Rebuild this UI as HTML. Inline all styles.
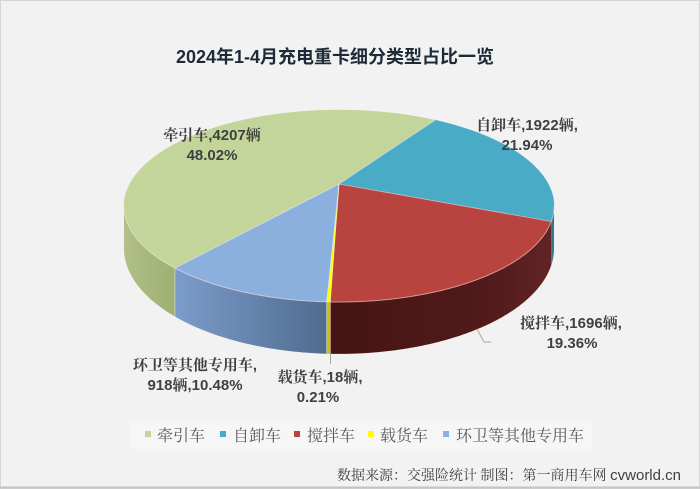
<!DOCTYPE html>
<html><head><meta charset="utf-8">
<style>
html,body{margin:0;padding:0;background:#f2f2f2;}
svg{display:block;}
.cj{font-family:"Noto Serif CJK SC","Liberation Serif",serif;font-weight:bold;}
.la{font-family:"Liberation Sans",sans-serif;font-weight:bold;}
.lbl{font-size:15px;fill:#404040;}
.leg{font-family:"Noto Serif CJK SC","Liberation Serif",serif;font-size:16px;fill:#595959;}
</style></head>
<body>
<svg id="c" width="700" height="489" viewBox="0 0 700 489" xmlns="http://www.w3.org/2000/svg">
<defs>
<linearGradient id="gG" gradientUnits="userSpaceOnUse" x1="124" y1="0" x2="182" y2="0"><stop offset="0" stop-color="#b0c086"/><stop offset="1" stop-color="#9cad70"/></linearGradient>
<linearGradient id="gB" gradientUnits="userSpaceOnUse" x1="178" y1="0" x2="332" y2="0"><stop offset="0" stop-color="#7b9bc9"/><stop offset="1" stop-color="#4e6a8d"/></linearGradient>
<linearGradient id="gR" gradientUnits="userSpaceOnUse" x1="332" y1="0" x2="554" y2="0"><stop offset="0" stop-color="#461414"/><stop offset="0.7" stop-color="#521a1a"/><stop offset="1" stop-color="#622424"/></linearGradient>
<linearGradient id="gT" gradientUnits="userSpaceOnUse" x1="540" y1="0" x2="556" y2="0"><stop offset="0" stop-color="#3d8ea6"/><stop offset="1" stop-color="#2f7388"/></linearGradient>
</defs>
<rect x="0" y="0" width="700" height="489" fill="#f2f2f2"/>
<rect x="0.5" y="0.5" width="699" height="488" fill="none" stroke="#d6d6d6" stroke-width="1"/>
<line x1="0" y1="487.5" x2="700" y2="487.5" stroke="#c4c4c4" stroke-width="2"/>

<text x="335" y="63" text-anchor="middle" style="font-family:'Liberation Sans','Noto Sans CJK SC',sans-serif;font-size:18px;font-weight:bold;fill:#1f2a38;">2024年1-4月充电重卡细分类型占比一览</text>

<g id="walls"></g>
<g id="tops"></g>
<g id="lines"></g>

<!-- leader lines -->
<polyline points="477,329 484,342 491,342" fill="none" stroke="#a6a6a6" stroke-width="1"/>
<line x1="330.5" y1="354" x2="330.5" y2="364" stroke="#a6a6a6" stroke-width="1"/>

<!-- labels -->
<g class="lbl">
<text x="212" y="140" text-anchor="middle"><tspan class="cj">牵引车</tspan><tspan class="la">,4207</tspan><tspan class="cj">辆</tspan></text>
<text x="212" y="160" text-anchor="middle" class="la">48.02%</text>

<text x="527" y="130" text-anchor="middle"><tspan class="cj">自卸车</tspan><tspan class="la">,1922</tspan><tspan class="cj">辆</tspan><tspan class="la">,</tspan></text>
<text x="527" y="150" text-anchor="middle" class="la">21.94%</text>

<text x="571" y="328" text-anchor="middle"><tspan class="cj">搅拌车</tspan><tspan class="la">,1696</tspan><tspan class="cj">辆</tspan><tspan class="la">,</tspan></text>
<text x="572" y="348" text-anchor="middle" class="la">19.36%</text>

<text x="195" y="370" text-anchor="middle"><tspan class="cj">环卫等其他专用车</tspan><tspan class="la">,</tspan></text>
<text x="195" y="390" text-anchor="middle"><tspan class="la">918</tspan><tspan class="cj">辆</tspan><tspan class="la">,10.48%</tspan></text>

<text x="320" y="382" text-anchor="middle"><tspan class="cj">载货车</tspan><tspan class="la">,18</tspan><tspan class="cj">辆</tspan><tspan class="la">,</tspan></text>
<text x="318" y="402" text-anchor="middle" class="la">0.21%</text>
</g>

<!-- legend -->
<rect x="129" y="421" width="463" height="28" fill="#f6f6f6"/>
<rect x="145" y="431" width="6" height="6" fill="#c3d59b"/>
<text x="157" y="441" class="leg">牵引车</text>
<rect x="220" y="431" width="6" height="6" fill="#4aabc6"/>
<text x="233" y="441" class="leg">自卸车</text>
<rect x="294" y="431" width="6" height="6" fill="#b9433f"/>
<text x="307" y="441" class="leg">搅拌车</text>
<rect x="368" y="431" width="6" height="6" fill="#ffff00"/>
<text x="380" y="441" class="leg">载货车</text>
<rect x="443" y="431" width="6" height="6" fill="#8cb0de"/>
<text x="456" y="441" class="leg">环卫等其他专用车</text>

<!-- source -->
<text x="681" y="480" text-anchor="end" style="font-size:14px;fill:#404040;"><tspan style="font-family:'Noto Serif CJK SC','Liberation Serif',serif;">数据来源：交强险统计 制图：第一商用车网 </tspan><tspan style="font-family:'Liberation Sans',sans-serif;font-size:15px;">cvworld.cn</tspan></text>
</svg>
<script>
(function(){
var NS="http://www.w3.org/2000/svg";
var cx=339,cy=184,A=209.3,B=90.96,k=0.2292,H=40;
function P(t,d){var r=t*Math.PI/180;var X=Math.sin(r),Y=Math.cos(r);var s=1+k*Y;return [cx+A*X/s, cy-B*Y/s+d*H/s];}
function arc(t1,t2,d){var pts=[];var n=Math.max(2,Math.ceil(Math.abs(t2-t1)/0.5));for(var i=0;i<=n;i++){pts.push(P(t1+(t2-t1)*i/n,d));}return pts;}
function f(p){return p[0].toFixed(2)+","+p[1].toFixed(2);}
function mk(parent,tag,attrs){var e=document.createElementNS(NS,tag);for(var a in attrs)e.setAttribute(a,attrs[a]);parent.appendChild(e);return e;}
var slices=[
 {t1:220.3,t2:393.17,top:"#c3d59b",wall:"url(#gG)"},
 {t1:33.17,t2:112.15,top:"#4aabc6",wall:"url(#gT)"},
 {t1:112.15,t2:181.85,top:"#b9433f",wall:"url(#gR)"},
 {t1:181.85,t2:182.6,top:"#ffff00",wall:"#c9c200"},
 {t1:182.6,t2:220.3,top:"#8cb0de",wall:"url(#gB)"}
];
var walls=document.getElementById("walls"),tops=document.getElementById("tops"),lines=document.getElementById("lines");
var lo=103,hi=257;
slices.forEach(function(s){
  var a=Math.max(s.t1,lo),b=Math.min(s.t2,hi);
  if(b>a){
    var top=arc(a,b,0),bot=arc(b,a,1);
    var d="M"+top.map(f).join(" L")+" L"+bot.map(f).join(" L")+" Z";
    mk(walls,"path",{d:d,fill:s.wall,stroke:s.wall.indexOf("url")==0?"none":s.wall,"stroke-width":"0.3"});
  }
});
slices.forEach(function(s){
  var pts=arc(s.t1,s.t2,0);
  var d="M"+cx+","+cy+" L"+pts.map(f).join(" L")+" Z";
  mk(tops,"path",{d:d,fill:s.top,stroke:s.top,"stroke-width":"0.4"});
});
/* separators on top */
[220.3,33.17,112.15,181.85,182.6].forEach(function(t){
  var p=P(t,0);
  mk(lines,"line",{x1:cx,y1:cy,x2:p[0].toFixed(2),y2:p[1].toFixed(2),stroke:"rgba(255,255,255,0.55)","stroke-width":"0.8"});
});
/* wall separators */
[220.3,181.85,182.6].forEach(function(t){
  var p=P(t,0),q=P(t,1);
  mk(lines,"line",{x1:p[0].toFixed(2),y1:p[1].toFixed(2),x2:q[0].toFixed(2),y2:q[1].toFixed(2),stroke:"rgba(230,230,230,0.7)","stroke-width":"0.8"});
});
/* front rim highlight */
var rim=arc(lo,hi,0);
mk(lines,"polyline",{points:rim.map(f).join(" "),fill:"none",stroke:"rgba(255,225,225,0.55)","stroke-width":"1"});
})();
</script>
</body></html>
